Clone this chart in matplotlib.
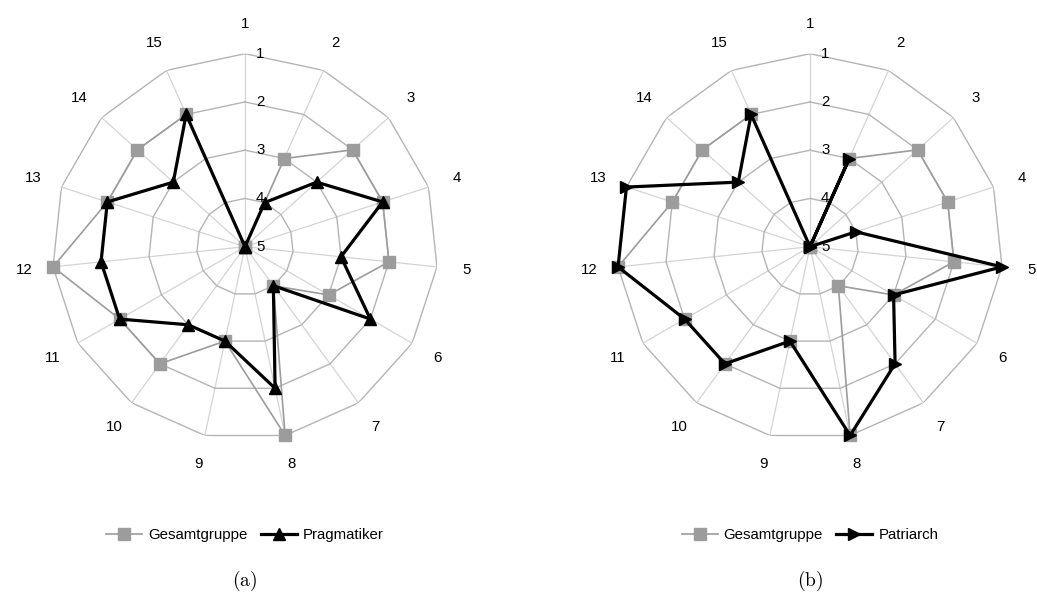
import numpy as np
import matplotlib.pyplot as plt

# items 1..15, scale 1 (outer) .. 5 (centre)
items = [str(i) for i in range(1, 16)]
levels = [1, 2, 3, 4, 5]

gesamt = [5, 3, 2, 2, 2, 3, 4, 1, 3, 2, 2, 1, 2, 2, 2]
pragmatiker = [5, 4, 3, 2, 3, 2, 4, 2, 3, 3, 2, 2, 2, 3, 2]
patriarch = [5, 3, 5, 4, 1, 3, 2, 1, 3, 2, 2, 1, 1, 3, 2]

W, H = 1037, 598
R = 193  # outer radius in px
GRID_RING = "#b4b4b4"
GRID_SPOKE = "#d4d4d4"
GRAY = "#9c9c9c"
FS = 10.8

plt.rcParams['font.family'] = ['Liberation Sans', 'DejaVu Sans']
plt.rcParams['mathtext.fontset'] = 'cm'

fig = plt.figure(figsize=(W / 100, H / 100), dpi=100)


def closed(vals):
    return list(vals) + [vals[0]]


def radar(cx, cy, other, other_label, marker, caption):
    ax = fig.add_axes([(cx - R) / W, (H - cy - R) / H, 2 * R / W, 2 * R / H],
                      projection='polar')
    ax.set_theta_zero_location('N')
    ax.set_theta_direction(-1)
    ax.set_ylim(5, 1)
    ax.grid(False)
    ax.spines['polar'].set_visible(False)
    ax.set_xticks([])
    ax.set_yticks([])
    ax.patch.set_alpha(0)

    theta = np.linspace(0, 2 * np.pi, len(items), endpoint=False)
    th_c = closed(theta)

    # polygon grid
    for t in theta:
        ax.plot([t, t], [5, 1], color=GRID_SPOKE, lw=0.9, zorder=1)
    for lv in levels[:-1]:
        ax.plot(th_c, [lv] * len(th_c), color=GRID_RING, lw=1.0, zorder=1)

    # radial value labels
    for lv in levels:
        ax.annotate(str(lv), (0, lv), xytext=(8, 0), textcoords='offset points',
                    ha='left', va='center', fontsize=FS)

    # item labels
    for t, lab in zip(theta, items):
        ax.text(t, 0.39, lab, ha='center', va='center', fontsize=FS,
                clip_on=False)

    l1, = ax.plot(th_c, closed(gesamt), color=GRAY, lw=1.2, marker='s',
                  markersize=8, markerfacecolor=GRAY, markeredgecolor=GRAY,
                  label="Gesamtgruppe", zorder=3, clip_on=False)
    l2, = ax.plot(th_c, closed(other), color='black', lw=2.3, marker=marker,
                  markersize=8, label=other_label, zorder=4, clip_on=False)

    fig.legend(handles=[l1, l2], loc='center', ncol=2, frameon=False,
               bbox_to_anchor=(cx / W, 1 - 535 / H), fontsize=FS,
               handlelength=2.4, handletextpad=0.4, columnspacing=0.9)
    fig.text(cx / W, 1 - 581 / H, r'$\mathrm{' + caption + '}$',
             ha='center', va='center', fontsize=14)


radar(245, 246.7, pragmatiker, "Pragmatiker", '^', "(a)")
radar(810, 246.7, patriarch, "Patriarch", '>', "(b)")

fig.savefig("out.png", dpi=100)
